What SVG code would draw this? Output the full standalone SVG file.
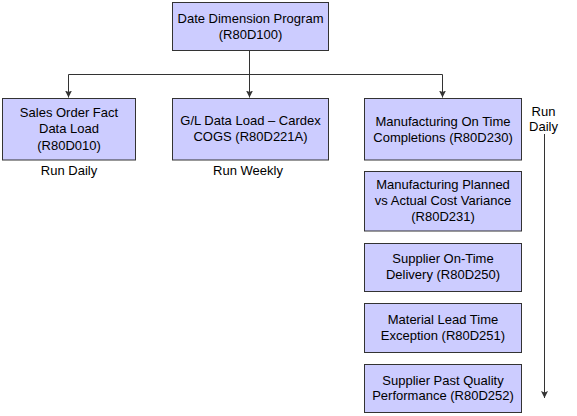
<svg xmlns="http://www.w3.org/2000/svg" width="577" height="416" viewBox="0 0 577 416">
<defs>
<style>
.box{fill:#ccccff;stroke:#333333;stroke-width:1}
.t{font-family:"Liberation Sans",Arial,sans-serif;font-size:13px;fill:#000;text-anchor:middle}
.ln{fill:none;stroke:#333333;stroke-width:1}
</style>
<marker id="ah" markerWidth="8" markerHeight="8" refX="7" refY="4" orient="auto" markerUnits="userSpaceOnUse">
<path d="M0,0.5 L7,4 L0,7.5 L1.5,4 Z" fill="#333333"/>
</marker>
</defs>
<rect width="577" height="416" fill="#ffffff"/>
<g id="connectors">
<line class="ln" x1="249.5" y1="50.5" x2="249.5" y2="97.5" marker-end="url(#ah)"/>
<line class="ln" x1="68.5" y1="74.5" x2="442.5" y2="74.5"/>
<line class="ln" x1="68.5" y1="74.5" x2="68.5" y2="97.5" marker-end="url(#ah)"/>
<line class="ln" x1="442.5" y1="74.5" x2="442.5" y2="97.5" marker-end="url(#ah)"/>
<line class="ln" x1="544.5" y1="134" x2="544.5" y2="398" marker-end="url(#ah)"/>
</g>
<g id="date-dimension">
<rect class="box" x="172.5" y="2.5" width="156" height="48"/>
<text class="t" x="250.5" y="23">Date Dimension Program</text>
<text class="t" x="250.5" y="38.7">(R80D100)</text>
</g>
<g id="sales-order">
<rect class="box" x="2.5" y="98.5" width="133" height="61.5"/>
<text class="t" x="69" y="117">Sales Order Fact</text>
<text class="t" x="69" y="133">Data Load</text>
<text class="t" x="69" y="149.5">(R80D010)</text>
</g>
<g id="gl-data-load">
<rect class="box" x="172.5" y="98.5" width="156" height="61.5"/>
<text class="t" x="250.5" y="125">G/L Data Load – Cardex</text>
<text class="t" x="250.5" y="141">COGS (R80D221A)</text>
</g>
<g id="mfg-on-time">
<rect class="box" x="364.5" y="98.5" width="157" height="61.5"/>
<text class="t" x="443" y="125.5">Manufacturing On Time</text>
<text class="t" x="443" y="141.5">Completions (R80D230)</text>
</g>
<g id="mfg-planned">
<rect class="box" x="364.5" y="171.5" width="157" height="59.5"/>
<text class="t" x="443" y="189">Manufacturing Planned</text>
<text class="t" x="443" y="205">vs Actual Cost Variance</text>
<text class="t" x="443" y="221">(R80D231)</text>
</g>
<g id="supplier-on-time">
<rect class="box" x="364.5" y="243.5" width="157" height="48"/>
<text class="t" x="443" y="263">Supplier On-Time</text>
<text class="t" x="443" y="279">Delivery (R80D250)</text>
</g>
<g id="material-lead">
<rect class="box" x="364.5" y="303.5" width="157" height="49"/>
<text class="t" x="443" y="324">Material Lead Time</text>
<text class="t" x="443" y="340">Exception (R80D251)</text>
</g>
<g id="supplier-past">
<rect class="box" x="364.5" y="364.5" width="157" height="48"/>
<text class="t" x="443" y="384.5">Supplier Past Quality</text>
<text class="t" x="443" y="400">Performance (R80D252)</text>
</g>
<g id="labels">
<text class="t" x="69" y="174.5">Run Daily</text>
<text class="t" x="248" y="175">Run Weekly</text>
<text class="t" x="543.5" y="116">Run</text>
<text class="t" x="543.5" y="131">Daily</text>
</g>
</svg>
